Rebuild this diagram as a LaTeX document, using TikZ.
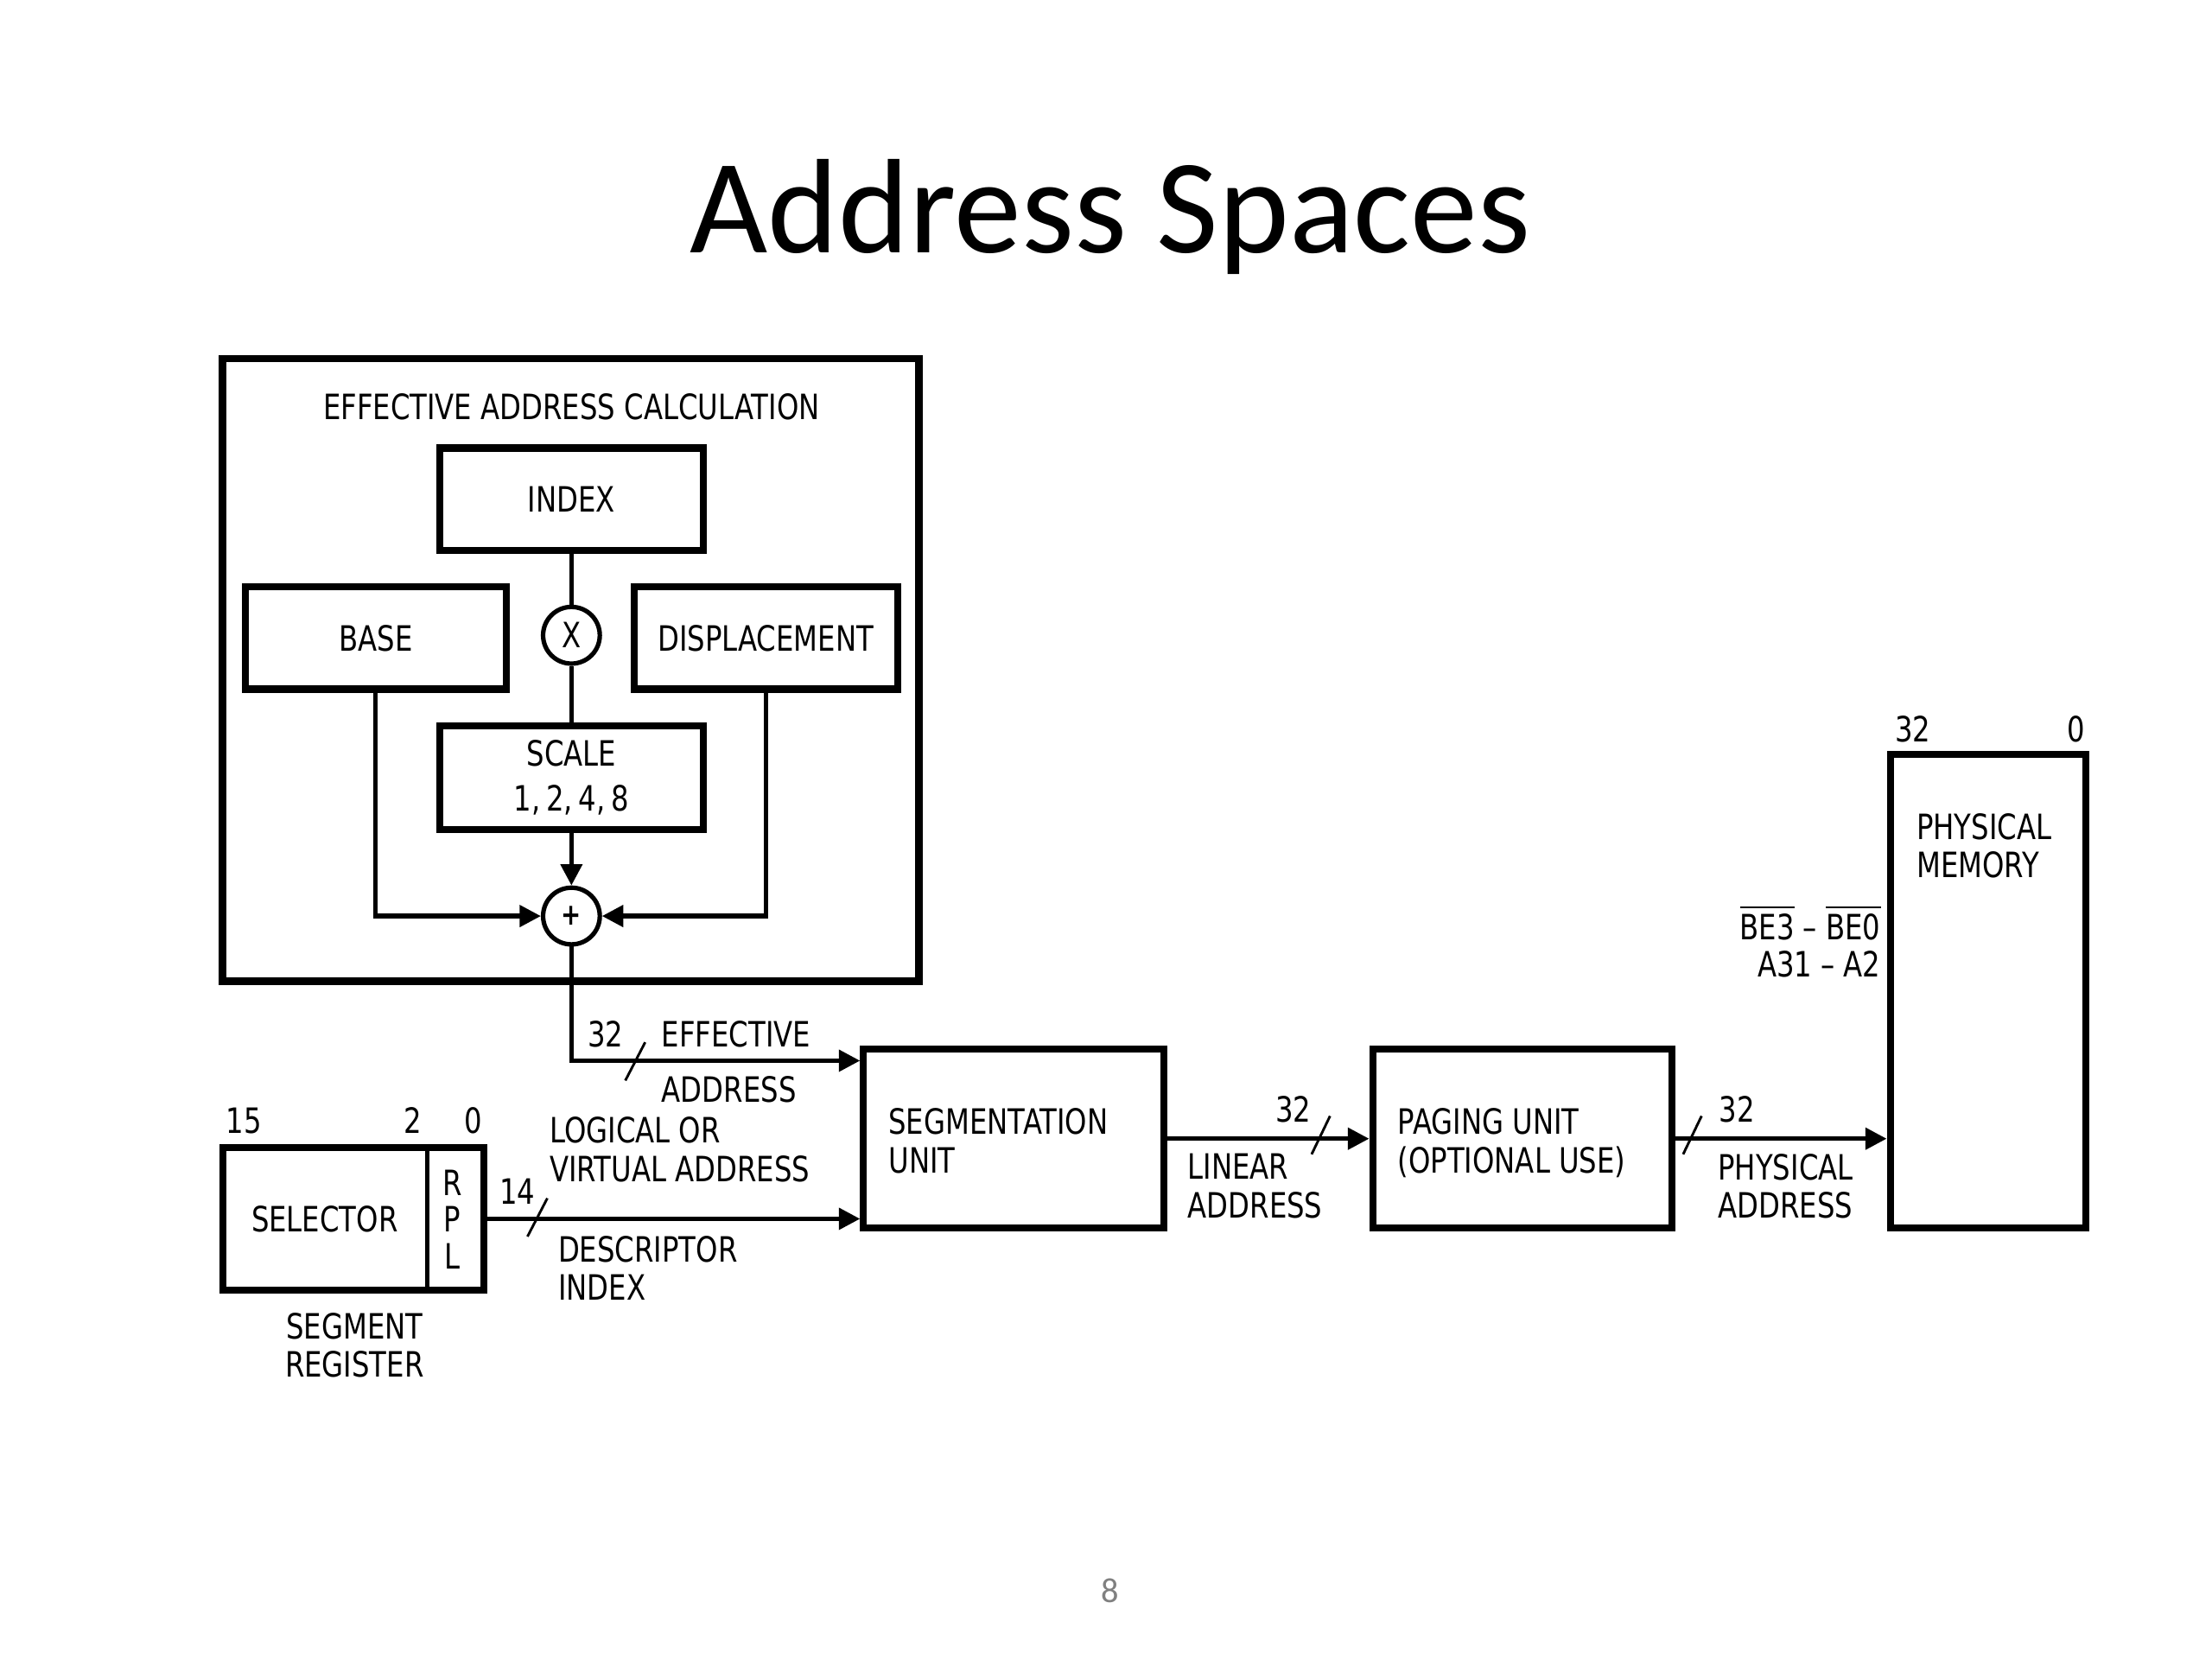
\documentclass[tikz,border=0pt]{standalone}
\usepackage{fontspec}
\setmainfont{Carlito}
\newfontfamily\diag[FakeStretch=0.8]{DejaVu Sans}
\usetikzlibrary{arrows.meta}
\newcommand\ovl[1]{\ensuremath{\overline{\mbox{#1}}}}
\begin{document}
\begin{tikzpicture}[
  frame/.style={draw, line width=1.5pt, inner sep=0pt},
  blk/.style={draw, line width=1.4pt, inner sep=0pt, font=\diag\fontsize{7}{8}\selectfont, align=center},
  lbl/.style={font=\diag\fontsize{7}{7.7}\selectfont, inner sep=0pt},
  op/.style={draw, circle, line width=0.9pt, minimum size=0.4cm, inner sep=0pt, font=\diag\fontsize{7}{8}\selectfont},
  wire/.style={line width=0.9pt},
  arr/.style={line width=0.9pt, -{Triangle[length=0.15cm,width=0.15cm]}},
  slash/.style={line width=0.5pt}
]
\useasboundingbox (0,0) rectangle (15.6,11.7);

% title and page number
\node[font=\fontsize{27}{32}\selectfont, anchor=base] (title) at (7.83,9.92) {Address Spaces};
\node[font=\fontsize{7}{8}\selectfont, text=black!50, anchor=base] (pg) at (7.83,0.40) {8};

% effective address calculation
\node[frame, minimum width=4.91cm, minimum height=4.39cm] (eac) at (4.025,6.975) {};
\node[lbl, anchor=base] (eact) at (4.03,8.74) {EFFECTIVE ADDRESS CALCULATION};
\node[blk, minimum width=1.86cm, minimum height=0.72cm] (index) at (4.03,8.18) {INDEX};
\node[blk, minimum width=1.84cm, minimum height=0.72cm] (base) at (2.65,7.20) {BASE};
\node[blk, minimum width=1.86cm, minimum height=0.72cm] (disp) at (5.40,7.20) {DISPLACEMENT};
\node[op] (mul) at (4.03,7.22) {X};
\node[blk, minimum width=1.86cm, minimum height=0.73cm] (scale) at (4.03,6.215) {SCALE\\[1pt]1,\,2,\,4,\,8};
\node[op, font=\diag\bfseries\fontsize{6}{7}\selectfont] (add) at (4.03,5.24) {+};

\draw[wire] (index) -- (mul);
\draw[wire] (mul) -- (scale);
\draw[arr] (scale) -- (add);
\draw[arr] (base.south) |- (add.west);
\draw[arr] (disp.south) |- (add.east);

% segmentation unit
\node[blk, minimum width=2.12cm, minimum height=1.26cm] (seg) at (7.15,3.67) {};
\node[lbl, anchor=north west, align=left] (segt) at (6.26,3.89) {SEGMENTATION\\UNIT};

\draw[arr] (add.south) |- ([yshift=0.55cm]seg.west);
\draw[slash] (4.41,4.08) -- (4.55,4.35);
\node[lbl, anchor=base] (n32a) at (4.27,4.32) {32};
\node[lbl, anchor=base west] (efft) at (4.66,4.32) {EFFECTIVE};
\node[lbl, anchor=base west] (addt) at (4.66,3.93) {ADDRESS};

% segment register
\node[blk, minimum width=1.84cm, minimum height=1.01cm] (segreg) at (2.49,3.105) {};
\draw[line width=0.9pt] ([xshift=-0.42cm]segreg.north east) -- ([xshift=-0.42cm]segreg.south east);
\node[lbl] (selt) at (2.29,3.10) {SELECTOR};
\node[lbl] (rr) at (3.19,3.36) {R};
\node[lbl] (pp) at (3.19,3.10) {P};
\node[lbl] (ll) at (3.19,2.84) {L};
\node[lbl, anchor=base] (b15) at (1.72,3.71) {15};
\node[lbl, anchor=base] (b2) at (2.91,3.71) {2};
\node[lbl, anchor=base] (b0) at (3.34,3.71) {0};
\node[lbl, anchor=north, align=center] (segregt) at (2.50,2.45) {SEGMENT\\REGISTER};

\draw[arr] (segreg.east) -- (segreg.east -| seg.west);
\draw[slash] (3.72,2.98) -- (3.86,3.25);
\node[lbl, anchor=base] (n14) at (3.65,3.21) {14};
\node[lbl, anchor=north west, align=left] (logt) at (3.87,3.83) {LOGICAL OR\\VIRTUAL ADDRESS};
\node[lbl, anchor=north west, align=left] (desct) at (3.93,2.99) {DESCRIPTOR\\INDEX};

% paging unit
\node[blk, minimum width=2.11cm, minimum height=1.26cm] (paging) at (10.735,3.67) {};
\node[lbl, anchor=north west, align=left] (pagt) at (9.85,3.89) {PAGING UNIT\\(OPTIONAL USE)};

\draw[arr] (seg.east) -- (paging.west);
\draw[slash] (9.25,3.56) -- (9.38,3.83);
\node[lbl, anchor=base] (n32b) at (9.12,3.79) {32};
\node[lbl, anchor=north west, align=left] (lint) at (8.37,3.57) {LINEAR\\ADDRESS};

% physical memory
\node[blk, minimum width=1.38cm, minimum height=3.34cm] (mem) at (14.02,4.71) {};
\node[lbl, anchor=north west, align=left] (memt) at (13.51,5.97) {PHYSICAL\\MEMORY};
\node[lbl, anchor=base] (m32) at (13.49,6.47) {32};
\node[lbl, anchor=base] (m0) at (14.64,6.47) {0};
\node[lbl, anchor=base east] (bet) at (13.27,5.07) {\ovl{BE3} – \ovl{BE0}};
\node[lbl, anchor=base east] (at) at (13.27,4.81) {A31 – A2};

\draw[arr] (paging.east) -- (paging.east -| mem.west);
\draw[slash] (11.87,3.56) -- (12.00,3.83);
\node[lbl, anchor=base] (n32c) at (12.25,3.79) {32};
\node[lbl, anchor=north west, align=left] (physt) at (12.11,3.57) {PHYSICAL\\ADDRESS};
\end{tikzpicture}
\end{document}
